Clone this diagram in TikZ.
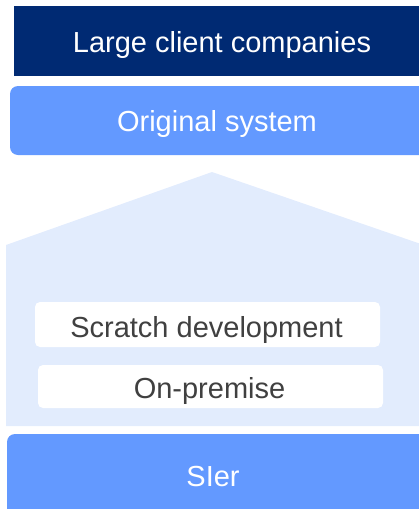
\documentclass[tikz,border=0pt]{standalone}
\usepackage{fontspec}
\setmainfont{Liberation Sans}
\definecolor{navy}{RGB}{0,42,115}
\definecolor{midblue}{RGB}{99,153,255}
\definecolor{paleblue}{RGB}{226,236,253}
\definecolor{txtgray}{RGB}{64,64,64}
\tikzset{
  box/.style={inner sep=0pt, outer sep=0pt},
  lbl/.style={anchor=base, inner sep=0pt, font=\fontsize{29}{35}\selectfont},
}
\begin{document}
\begin{tikzpicture}[x=1pt,y=-1pt]
\useasboundingbox (0,0) rectangle (418,509);
% house background
\fill[paleblue] (6,426) -- (6,245) -- (212,172) -- (418,243) -- (430,246) -- (430,426) -- cycle;
% boxes
\node[box, fill=navy, minimum width=420pt, minimum height=70pt, anchor=north west] (top) at (14,6) {};
\node[box, fill=midblue, rounded corners=8pt, minimum width=420pt, minimum height=69pt, anchor=north west] (orig) at (10,86) {};
\node[box, fill=white, rounded corners=5pt, minimum width=345pt, minimum height=45pt, anchor=north west] (scratch) at (35,302) {};
\node[box, fill=white, rounded corners=5pt, minimum width=345pt, minimum height=43pt, anchor=north west] (onprem) at (38,365) {};
\node[box, fill=midblue, rounded corners=8pt, minimum width=420pt, minimum height=90pt, anchor=north west] (sier) at (7,434) {};
% labels
\node[lbl, text=white] (topt) at (222,52) {Large client companies};
\node[lbl, text=white] (origt) at (217,131) {Original system};
\node[lbl, text=txtgray] (scratcht) at (206.5,337) {Scratch development};
\node[lbl, text=txtgray] (onpremt) at (209.5,398) {On-premise};
\node[lbl, text=white] (siert) at (213,486) {SIer};
\end{tikzpicture}
\end{document}
